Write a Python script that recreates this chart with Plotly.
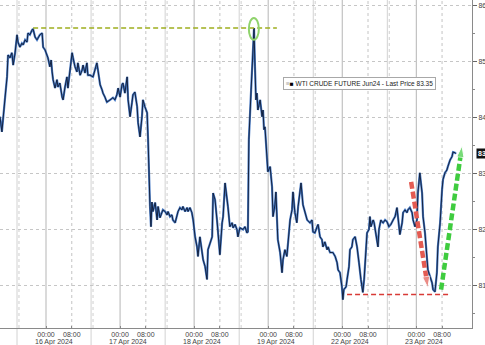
import plotly.graph_objects as go

# ---- data: trading hours relative to 16 Apr 2024 00:00 (23h sessions, weekend removed)
hours = [
    -14.3, -13.7, -12.7, -12.1, -11.8, -11.2, -10.6, -10.2, -9.6, -9.0, -8.7, -8.1, -7.5, -7.1,
    -6.5, -5.9, -5.6, -5.0, -4.3, -4.0, -3.4, -2.8, -2.5, -1.9, -1.2, -0.9, -0.3, 0.3, 0.6, 1.2,
    1.6, 1.9, 2.2, 2.8, 3.4, 3.7, 4.3, 5.0, 5.3, 5.9, 6.5, 6.8, 7.5, 8.1, 8.4, 9.0, 9.6, 9.9,
    10.6, 11.2, 11.5, 12.1, 12.7, 13.0, 13.7, 14.6, 15.8, 16.1, 16.8, 17.4, 17.7, 18.3, 18.9,
    19.9, 20.8, 21.4, 22.0, 22.4, 23.0, 23.6, 23.9, 24.5, 25.2, 25.5, 26.1, 26.7, 27.0, 27.6,
    28.3, 28.6, 29.2, 29.8, 30.1, 30.7, 31.4, 31.7,
    32.0, 32.3, 32.6, 32.9, 33.2, 33.9, 34.5, 34.8, 35.4, 36.0, 36.3, 37.0, 37.6, 37.9, 38.5,
    39.1, 39.4, 40.1, 40.7, 41.0, 41.6, 42.2, 42.5, 43.2, 43.8, 44.1, 44.7, 45.3, 45.7, 46.3,
    46.9, 47.2, 47.8, 48.4, 48.8, 49.4, 50.0, 50.3, 50.9, 51.6, 51.9, 52.5, 53.1, 53.4, 54.0,
    54.7, 55.0, 55.6, 56.2, 56.5, 57.1, 57.8, 58.1, 58.7, 59.3, 59.6, 60.2, 61.2, 61.8, 62.4,
    62.7, 63.0, 63.7, 64.3, 64.6, 64.9, 65.2, 65.5, 65.8, 66.5, 67.1, 67.4, 67.7, 68.0, 68.3,
    68.6, 68.9, 69.6, 70.2, 70.5, 71.1, 71.4, 71.7, 72.0, 72.7, 73.3, 73.6, 74.2, 74.8, 75.2,
    75.8, 76.4, 76.7, 77.3, 77.9, 78.3, 78.9, 79.2, 79.8, 80.4, 81.1, 82.0, 82.6, 82.9, 83.5,
    84.2, 84.5, 85.1, 85.7, 86.0, 86.6, 87.3, 87.6, 88.2, 89.1, 89.8, 90.4, 90.7, 91.3, 91.9,
    92.2, 92.5, 93.2, 93.5, 94.1, 94.4, 95.0, 95.3, 96.0, 96.6, 96.9, 97.2, 97.8, 98.1, 98.4,
    98.8, 99.1, 99.4, 99.7, 100.3, 100.6, 100.9, 101.6, 101.9, 102.2, 102.8, 103.1, 103.4,
    104.0, 104.3, 104.7, 105.3, 105.9, 106.5, 107.1, 107.8, 108.4, 109.0, 109.3, 109.9, 110.6,
    110.9, 111.5, 112.1, 112.4, 113.0, 113.7, 114.0, 114.6, 115.2, 115.5, 116.1, 116.8, 117.1,
    117.7, 118.3, 118.6, 119.9, 120.2, 120.8, 121.4, 121.7, 122.4, 123.0, 123.3, 123.9, 124.5,
    124.8, 125.5, 126.1, 126.4, 127.0, 127.3,
]
prices = [
    84.01, 83.74, 84.36, 84.72, 85.11, 85.06, 85.15, 84.93, 85.15, 85.47, 85.34, 85.25, 85.32, 85.29,
    85.38, 85.34, 85.50, 85.47, 85.56, 85.57, 85.43, 85.38, 85.41, 85.47, 85.50, 85.25, 85.20, 85.11, 85.06, 84.90,
    85.02, 84.81, 84.67, 84.52, 84.67, 84.54, 84.61, 84.36, 84.31, 84.54, 84.72, 84.52, 84.93, 85.15, 85.06, 84.90, 84.81, 84.97,
    84.75, 84.84, 84.93, 84.79, 84.97, 84.75, 84.75, 84.72, 84.97, 84.84, 84.58, 84.49, 84.43, 84.36, 84.27,
    84.31, 84.35, 84.31, 84.40, 84.52, 84.36, 84.58, 84.61, 84.43, 84.72, 84.31, 84.01, 84.26, 84.40, 84.45,
    84.19, 83.90, 83.65, 84.01, 84.31, 84.19, 84.08, 83.60,
    82.67, 82.41, 82.05, 82.49, 82.32, 82.48, 82.17, 82.41, 82.21, 82.32, 82.35, 82.32, 82.26, 82.32, 82.23,
    82.26, 82.17, 82.12, 82.26, 82.32, 82.39, 82.35, 82.41, 82.32, 82.39, 82.32, 82.39, 82.30, 82.17, 81.87,
    81.69, 81.52, 81.87, 81.59, 81.46, 81.34, 81.11, 81.64, 81.76, 81.87, 82.65, 82.53, 82.17, 82.00, 81.55,
    82.12, 82.23, 82.83, 82.58, 82.41, 82.05, 82.12, 82.03, 82.09, 82.00, 81.87, 82.03, 82.00, 82.05, 81.94,
    81.96, 83.60, 84.49, 85.29, 85.59, 84.90, 84.31, 84.43, 84.13, 84.31, 84.01, 84.13, 83.78, 83.83, 83.54,
    83.19, 83.03, 83.12, 82.76, 82.23, 82.44, 82.67, 82.23, 81.82, 81.59, 81.23, 81.46, 81.64, 81.52, 81.82,
    82.17, 82.35, 82.67, 82.30, 82.12, 82.41, 82.65, 82.83, 82.44, 82.30, 82.17, 82.12, 82.17, 81.96, 81.94,
    82.05, 82.09, 81.87, 81.82, 81.69, 81.78, 81.64, 81.69, 81.59, 81.59, 81.52, 81.41, 81.28, 81.23, 80.98,
    80.75, 80.93, 80.98, 81.11, 81.34, 81.64, 81.69, 81.82, 81.87, 81.69, 81.50, 81.41, 81.11, 80.98, 80.88,
    81.11, 81.34, 81.59, 81.94, 82.00, 82.23, 82.05, 82.17, 82.12, 82.00, 81.82, 81.69, 82.00,
    82.17, 82.14, 82.12, 82.17, 82.14, 82.05, 82.09, 82.17, 82.23, 82.39, 82.23, 81.91, 82.12,
    82.30, 82.35, 82.30, 82.35, 82.39, 82.30, 82.17, 82.05, 82.17, 82.65, 83.01, 82.65, 82.23,
    81.94, 81.59, 81.28, 81.05, 80.93, 80.89, 81.23, 81.69, 82.12, 82.71, 82.89, 83.01, 83.06,
    83.12, 83.24, 83.30, 83.38, 83.37, 83.35,
]

day_labels = ["16 Apr 2024", "17 Apr 2024", "18 Apr 2024", "19 Apr 2024", "22 Apr 2024", "23 Apr 2024"]
day_open_hours = [0, 23, 46, 69, 92, 115]          # 00:00 of each day on the trading-hour axis
session_breaks = [-9, 14, 37, 60, 83, 106]          # day-group separators
time_tick_text = ["00:00", "08:00"]
y_ticks = [81, 82, 83, 84, 85, 86]
last_price = 83.35
series_name = "WTI CRUDE FUTURE Jun24 - Last Price 83.35"

# annotation levels (data units)
high_level = 85.59
high_span = (-4.0, 71.7)
low_level = 80.84
low_span = (93.5, 125.5)
peak_box = (63.0, 66.1, 85.38, 85.77)
red_arrow = ((113.4, 82.85), (118.6, 80.96))
green_arrow = ((122.7, 80.93), (129.2, 83.49))

X_RANGE = [-14.29, 132.3]
Y_RANGE = [80.245, 86.09]
FONT = "Liberation Sans"

fig = go.Figure()

# price line: blue halo + dark core
fig.add_trace(go.Scatter(x=hours, y=prices, mode="lines",
                         line=dict(color="#4a7cc6", width=2.2), hoverinfo="skip"))
fig.add_trace(go.Scatter(x=hours, y=prices, mode="lines",
                         line=dict(color="#0f1a33", width=0.9), name=series_name))

# dashed arrows
for (tail, tip), col in [(red_arrow, "#e35b52"), (green_arrow, "#3fcc3f")]:
    fig.add_trace(go.Scatter(
        x=[tail[0], tip[0]], y=[tail[1], tip[1]], mode="lines+markers",
        line=dict(color=col, width=4.5, dash="7px,3px"),
        marker=dict(symbol="arrow", size=[0, 12], angleref="previous", color=col),
        hoverinfo="skip"))

shapes = []
# vertical grid structure
for h in day_open_hours:
    shapes.append(dict(type="line", xref="x", yref="paper", x0=h, x1=h, y0=0, y1=1,
                       line=dict(color="#b5b5b5", width=1), layer="below"))
    shapes.append(dict(type="line", xref="x", yref="paper", x0=h + 8, x1=h + 8, y0=0, y1=1,
                       line=dict(color="#c4c4c4", width=1, dash="dot"), layer="below"))
for h in session_breaks:
    shapes.append(dict(type="line", xref="x", yref="paper", x0=h, x1=h, y0=-0.055, y1=1,
                       line=dict(color="#d2d2d2", width=1), layer="below"))
    shapes.append(dict(type="line", xref="x", yref="paper", x0=h + 0.6, x1=h + 0.6, y0=0, y1=1,
                       line=dict(color="#cfcfcf", width=1, dash="dot"), layer="below"))

# highlight lines
shapes.append(dict(type="line", xref="x", yref="y", x0=high_span[0], x1=high_span[1],
                   y0=high_level, y1=high_level, line=dict(color="#9fae1e", width=1.5, dash="5px,3px")))
shapes.append(dict(type="line", xref="x", yref="y", x0=low_span[0], x1=low_span[1],
                   y0=low_level, y1=low_level, line=dict(color="#d83a36", width=1.5, dash="5px,3px")))
shapes.append(dict(type="circle", xref="x", yref="y", x0=peak_box[0], x1=peak_box[1],
                   y0=peak_box[2], y1=peak_box[3], line=dict(color="#8fd36c", width=2)))

annotations = []
for h, lab in zip(day_open_hours, day_labels):
    annotations.append(dict(x=h + 2.5, y=-0.042, xref="x", yref="paper", text=lab,
                            showarrow=False, yanchor="middle", xanchor="center",
                            font=dict(family=FONT, size=7, color="#444")))
# legend box
annotations.append(dict(x=0.762, y=0.745, xref="paper", yref="paper", showarrow=False,
                        xanchor="center", yanchor="middle",
                        text='<span style="color:#aaa">\u2261</span><span style="color:#000">\u25A0</span> ' + series_name,
                        font=dict(family=FONT, size=6.5, color="#222"),
                        bgcolor="white", bordercolor="#a8a8a8", borderwidth=1, borderpad=2))
# last price tag
annotations.append(dict(x=1.008, y=last_price, xref="paper", yref="y", xanchor="left",
                        showarrow=False, text="<b>%.2f</b>" % last_price,
                        font=dict(family=FONT, size=7, color="white"),
                        bgcolor="#111", borderpad=1))

tickvals, ticktext = [], []
for h in day_open_hours:
    tickvals += [h, h + 8]
    ticktext += time_tick_text

fig.update_layout(
    width=485, height=345,
    margin=dict(l=0, r=13, t=0, b=17),
    paper_bgcolor="white", plot_bgcolor="white",
    showlegend=False,
    shapes=shapes, annotations=annotations,
    xaxis=dict(range=X_RANGE, tickvals=tickvals, ticktext=ticktext, showgrid=False,
               zeroline=False, showline=True, linecolor="#8a8a8a", linewidth=1,
               ticks="inside", ticklen=2, tickcolor="#8a8a8a", automargin=False,
               tickfont=dict(family=FONT, size=7, color="#444")),
    yaxis=dict(range=Y_RANGE, side="right", tickvals=y_ticks,
               ticktext=["%.2f" % v for v in y_ticks], showgrid=True,
               gridcolor="#c6c6c6", griddash="dot", gridwidth=1, zeroline=False,
               showline=True, linecolor="#8a8a8a", linewidth=1,
               ticks="outside", ticklen=4, tickcolor="#666", automargin=False,
               minor=dict(tickmode="linear", tick0=80, dtick=0.5, ticks="outside",
                          ticklen=2, tickcolor="#888", showgrid=False),
               tickfont=dict(family=FONT, size=7, color="#444")),
)

fig.write_html("out.html")
